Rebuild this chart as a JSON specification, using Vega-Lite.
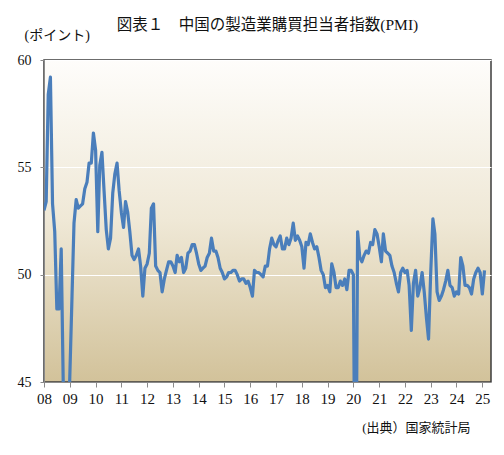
{
  "$schema": "https://vega.github.io/schema/vega-lite/v6.json",
  "autosize": {"type": "none"},
  "width": 447,
  "height": 322,
  "padding": {"left": 44, "top": 60, "right": 13, "bottom": 73},
  "background": "white",
  "title": {
    "text": "図表１　中国の製造業購買担当者指数(PMI)",
    "anchor": "middle",
    "offset": 0,
    "dy": 5,
    "font": "'Liberation Serif', 'Noto Sans CJK JP', serif",
    "fontSize": 15.5,
    "fontWeight": "normal",
    "color": "#111111"
  },
  "config": {
    "view": {
      "fill": {"gradient": "linear", "x1": 0, "y1": 0, "x2": 0, "y2": 1,
        "stops": [
          {"offset": 0, "color": "#fefdfb"},
          {"offset": 0.5, "color": "#efe8d6"},
          {"offset": 1, "color": "#d2c29a"}
        ]},
      "stroke": "#3c3c3c",
      "strokeWidth": 1.5
    },
    "axis": {
      "labelFont": "'Liberation Serif', 'Noto Sans CJK JP', serif",
      "titleFont": "'Liberation Serif', 'Noto Sans CJK JP', serif",
      "labelColor": "#111111",
      "titleColor": "#111111",
      "titleFontWeight": "normal",
      "domainColor": "#8a8a8a",
      "tickColor": "#8a8a8a"
    }
  },
  "data": {
    "values": [
      {"t":"2008-01","v":53.0},{"t":"2008-02","v":53.4},{"t":"2008-03","v":58.4},{"t":"2008-04","v":59.2},{"t":"2008-05","v":53.3},{"t":"2008-06","v":52.0},{"t":"2008-07","v":48.4},{"t":"2008-08","v":48.4},{"t":"2008-09","v":51.2},{"t":"2008-10","v":44.6},{"t":"2008-11","v":38.8},{"t":"2008-12","v":41.2},
      {"t":"2009-01","v":45.3},{"t":"2009-02","v":49.0},{"t":"2009-03","v":52.4},{"t":"2009-04","v":53.5},{"t":"2009-05","v":53.1},{"t":"2009-06","v":53.2},{"t":"2009-07","v":53.3},{"t":"2009-08","v":54.0},{"t":"2009-09","v":54.3},{"t":"2009-10","v":55.2},{"t":"2009-11","v":55.2},{"t":"2009-12","v":56.6},
      {"t":"2010-01","v":55.8},{"t":"2010-02","v":52.0},{"t":"2010-03","v":55.1},{"t":"2010-04","v":55.7},{"t":"2010-05","v":53.9},{"t":"2010-06","v":52.1},{"t":"2010-07","v":51.2},{"t":"2010-08","v":51.7},{"t":"2010-09","v":53.8},{"t":"2010-10","v":54.7},{"t":"2010-11","v":55.2},{"t":"2010-12","v":53.9},
      {"t":"2011-01","v":52.9},{"t":"2011-02","v":52.2},{"t":"2011-03","v":53.4},{"t":"2011-04","v":52.9},{"t":"2011-05","v":52.0},{"t":"2011-06","v":50.9},{"t":"2011-07","v":50.7},{"t":"2011-08","v":50.9},{"t":"2011-09","v":51.2},{"t":"2011-10","v":50.4},{"t":"2011-11","v":49.0},{"t":"2011-12","v":50.3},
      {"t":"2012-01","v":50.5},{"t":"2012-02","v":51.0},{"t":"2012-03","v":53.1},{"t":"2012-04","v":53.3},{"t":"2012-05","v":50.4},{"t":"2012-06","v":50.2},{"t":"2012-07","v":50.1},{"t":"2012-08","v":49.2},{"t":"2012-09","v":49.8},{"t":"2012-10","v":50.2},{"t":"2012-11","v":50.6},{"t":"2012-12","v":50.6},
      {"t":"2013-01","v":50.4},{"t":"2013-02","v":50.1},{"t":"2013-03","v":50.9},{"t":"2013-04","v":50.6},{"t":"2013-05","v":50.8},{"t":"2013-06","v":50.1},{"t":"2013-07","v":50.3},{"t":"2013-08","v":51.0},{"t":"2013-09","v":51.1},{"t":"2013-10","v":51.4},{"t":"2013-11","v":51.4},{"t":"2013-12","v":51.0},
      {"t":"2014-01","v":50.5},{"t":"2014-02","v":50.2},{"t":"2014-03","v":50.3},{"t":"2014-04","v":50.4},{"t":"2014-05","v":50.8},{"t":"2014-06","v":51.0},{"t":"2014-07","v":51.7},{"t":"2014-08","v":51.1},{"t":"2014-09","v":51.1},{"t":"2014-10","v":50.8},{"t":"2014-11","v":50.3},{"t":"2014-12","v":50.1},
      {"t":"2015-01","v":49.8},{"t":"2015-02","v":49.9},{"t":"2015-03","v":50.1},{"t":"2015-04","v":50.1},{"t":"2015-05","v":50.2},{"t":"2015-06","v":50.2},{"t":"2015-07","v":50.0},{"t":"2015-08","v":49.7},{"t":"2015-09","v":49.8},{"t":"2015-10","v":49.8},{"t":"2015-11","v":49.6},{"t":"2015-12","v":49.7},
      {"t":"2016-01","v":49.4},{"t":"2016-02","v":49.0},{"t":"2016-03","v":50.2},{"t":"2016-04","v":50.1},{"t":"2016-05","v":50.1},{"t":"2016-06","v":50.0},{"t":"2016-07","v":49.9},{"t":"2016-08","v":50.4},{"t":"2016-09","v":50.4},{"t":"2016-10","v":51.2},{"t":"2016-11","v":51.7},{"t":"2016-12","v":51.4},
      {"t":"2017-01","v":51.3},{"t":"2017-02","v":51.6},{"t":"2017-03","v":51.8},{"t":"2017-04","v":51.2},{"t":"2017-05","v":51.2},{"t":"2017-06","v":51.7},{"t":"2017-07","v":51.4},{"t":"2017-08","v":51.7},{"t":"2017-09","v":52.4},{"t":"2017-10","v":51.6},{"t":"2017-11","v":51.8},{"t":"2017-12","v":51.6},
      {"t":"2018-01","v":51.3},{"t":"2018-02","v":50.3},{"t":"2018-03","v":51.5},{"t":"2018-04","v":51.4},{"t":"2018-05","v":51.9},{"t":"2018-06","v":51.5},{"t":"2018-07","v":51.2},{"t":"2018-08","v":51.3},{"t":"2018-09","v":50.8},{"t":"2018-10","v":50.2},{"t":"2018-11","v":50.0},{"t":"2018-12","v":49.4},
      {"t":"2019-01","v":49.5},{"t":"2019-02","v":49.2},{"t":"2019-03","v":50.5},{"t":"2019-04","v":50.1},{"t":"2019-05","v":49.4},{"t":"2019-06","v":49.4},{"t":"2019-07","v":49.7},{"t":"2019-08","v":49.5},{"t":"2019-09","v":49.8},{"t":"2019-10","v":49.3},{"t":"2019-11","v":50.2},{"t":"2019-12","v":50.2},
      {"t":"2020-01","v":50.0},{"t":"2020-02","v":35.7},{"t":"2020-03","v":52.0},{"t":"2020-04","v":50.8},{"t":"2020-05","v":50.6},{"t":"2020-06","v":50.9},{"t":"2020-07","v":51.1},{"t":"2020-08","v":51.0},{"t":"2020-09","v":51.5},{"t":"2020-10","v":51.4},{"t":"2020-11","v":52.1},{"t":"2020-12","v":51.9},
      {"t":"2021-01","v":51.3},{"t":"2021-02","v":50.6},{"t":"2021-03","v":51.9},{"t":"2021-04","v":51.1},{"t":"2021-05","v":51.0},{"t":"2021-06","v":50.9},{"t":"2021-07","v":50.4},{"t":"2021-08","v":50.1},{"t":"2021-09","v":49.6},{"t":"2021-10","v":49.2},{"t":"2021-11","v":50.1},{"t":"2021-12","v":50.3},
      {"t":"2022-01","v":50.1},{"t":"2022-02","v":50.2},{"t":"2022-03","v":49.5},{"t":"2022-04","v":47.4},{"t":"2022-05","v":49.6},{"t":"2022-06","v":50.2},{"t":"2022-07","v":49.0},{"t":"2022-08","v":49.4},{"t":"2022-09","v":50.1},{"t":"2022-10","v":49.2},{"t":"2022-11","v":48.0},{"t":"2022-12","v":47.0},
      {"t":"2023-01","v":50.1},{"t":"2023-02","v":52.6},{"t":"2023-03","v":51.9},{"t":"2023-04","v":49.2},{"t":"2023-05","v":48.8},{"t":"2023-06","v":49.0},{"t":"2023-07","v":49.3},{"t":"2023-08","v":49.7},{"t":"2023-09","v":50.2},{"t":"2023-10","v":49.5},{"t":"2023-11","v":49.4},{"t":"2023-12","v":49.0},
      {"t":"2024-01","v":49.2},{"t":"2024-02","v":49.1},{"t":"2024-03","v":50.8},{"t":"2024-04","v":50.4},{"t":"2024-05","v":49.5},{"t":"2024-06","v":49.5},{"t":"2024-07","v":49.4},{"t":"2024-08","v":49.1},{"t":"2024-09","v":49.8},{"t":"2024-10","v":50.1},{"t":"2024-11","v":50.3},{"t":"2024-12","v":50.1},
      {"t":"2025-01","v":49.1},{"t":"2025-02","v":50.2}
    ],
    "format": {"parse": {"t": "date:'%Y-%m'"}}
  },
  "mark": {"type": "line", "clip": true, "color": "#4a7ebb", "strokeWidth": 3.2, "strokeJoin": "round"},
  "encoding": {
    "x": {
      "field": "t",
      "type": "temporal",
      "scale": {"domain": [{"year": 2008, "month": 1, "date": 1}, {"year": 2025, "month": 5, "date": 4}]},
      "axis": {
        "format": "%y",
        "tickCount": {"interval": "year", "step": 1},
        "grid": false,
        "tickSize": 5,
        "labelFontSize": 15,
        "labelPadding": 4,
        "labelFlush": false,
        "labelOverlap": false,
        "title": "(出典）国家統計局",
        "titleFontSize": 13,
        "titleAnchor": null,
        "titleAlign": "right",
        "titleBaseline": "middle",
        "titleX": 426,
        "titleY": 45
      }
    },
    "y": {
      "field": "v",
      "type": "quantitative",
      "scale": {"domain": [45, 60], "nice": false, "zero": false},
      "axis": {
        "values": [45, 50, 55, 60],
        "grid": true,
        "gridColor": "#ffffff",
        "gridWidth": 1.2,
        "tickSize": 4,
        "labelFontSize": 14,
        "labelPadding": 9,
        "title": "(ポイント)",
        "titleFontSize": 14,
        "titleAngle": 0,
        "titleAlign": "left",
        "titleBaseline": "middle",
        "titleX": -20,
        "titleY": -25
      }
    }
  }
}
